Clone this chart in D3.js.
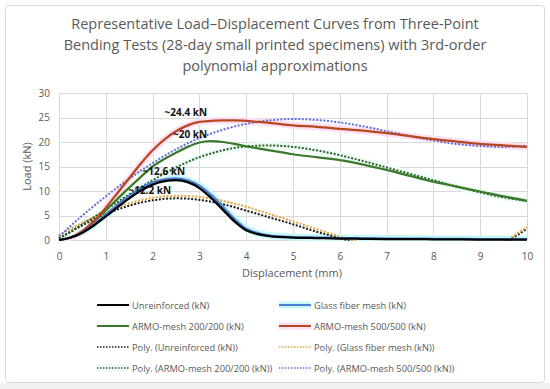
<!DOCTYPE html>
<html>
<head>
<meta charset="utf-8">
<script src="https://cdn.jsdelivr.net/npm/d3@7"></script>
<style>
body { margin: 0; background: #fff; }
svg { display: block; font-family: "Open Sans", "Noto Sans", sans-serif; }
</style>
</head>
<body>
<div id="chart"></div>
<script>
// load (kN), x = displacement (mm)
var x_raw = [0, 0.25, 0.5, 0.75, 1, 1.25, 1.5, 1.75, 2, 2.25, 2.5, 2.75, 3, 3.25, 3.5, 3.75, 4, 4.25, 4.5, 5, 5.5, 6, 6.5, 7, 7.5, 8, 8.5, 9, 9.5, 10];
var unreinforced = [0, 0.5, 1.5, 3.0, 4.8, 6.7, 8.5, 10.1, 11.3, 12.0, 12.2, 11.8, 10.6, 8.6, 6.2, 3.8, 2.0, 1.2, 0.8, 0.5, 0.4, 0.3, 0.25, 0.2, 0.18, 0.15, 0.12, 0.1, 0.1, 0.1];
var glass_fiber = [0, 0.5, 1.6, 3.2, 5.2, 7.2, 9.0, 10.6, 11.8, 12.4, 12.6, 12.2, 11.1, 9.2, 6.8, 4.3, 2.3, 1.4, 0.9, 0.6, 0.5, 0.4, 0.35, 0.3, 0.28, 0.25, 0.22, 0.2, 0.2, 0.2];
var armo_200 = [0, 0.5, 1.8, 3.8, 6.1, 8.4, 10.7, 12.9, 15.0, 16.5, 17.8, 19.0, 19.9, 20.2, 20.0, 19.6, 19.1, 18.7, 18.3, 17.5, 16.9, 16.3, 15.4, 14.3, 13.1, 11.9, 10.9, 9.9, 8.9, 8.0];
var armo_500 = [0, 0.5, 1.8, 3.9, 6.6, 9.6, 12.6, 15.6, 18.3, 20.5, 22.2, 23.4, 24.1, 24.3, 24.4, 24.4, 24.3, 24.1, 23.9, 23.4, 23.1, 22.7, 22.3, 21.8, 21.2, 20.6, 20.1, 19.6, 19.3, 19.0];

// trendline points (dips below 0 are clipped)
var x_poly = [0, 0.5, 1, 1.5, 2, 2.5, 3, 3.5, 4, 4.5, 5, 5.5, 6, 6.5, 7, 7.5, 8, 8.5, 9, 9.5, 10];
var poly_unreinforced = [0.3, 3.0, 5.3, 7.0, 8.1, 8.5, 8.2, 7.3, 6.0, 4.6, 3.2, 1.7, 0.4, -0.9, -2.0, -2.9, -3.4, -3.3, -2.5, -0.6, 2.3];
var poly_glass = [1.0, 3.5, 5.7, 7.5, 8.6, 9.0, 8.8, 8.0, 6.8, 5.3, 3.8, 2.2, 0.7, -0.7, -1.9, -2.8, -3.3, -3.2, -2.4, -0.4, 2.7];
var poly_200 = [0.3, 3.2, 6.2, 9.3, 12.2, 14.8, 16.9, 18.3, 19.1, 19.3, 19.0, 18.3, 17.3, 16.1, 14.8, 13.5, 12.2, 10.9, 9.7, 8.7, 8.0];
var poly_500 = [0.7, 5.0, 8.9, 12.5, 15.7, 18.5, 20.8, 22.5, 23.7, 24.4, 24.7, 24.5, 24.0, 23.2, 22.2, 21.2, 20.3, 19.6, 19.2, 19.0, 19.2];

var x_ticks = [0, 1, 2, 3, 4, 5, 6, 7, 8, 9, 10];
var y_ticks = [0, 5, 10, 15, 20, 25, 30];

var title_lines = [
    "Representative Load\u2013Displacement Curves from Three-Point",
    "Bending Tests (28-day small printed specimens) with 3rd-order",
    "polynomial approximations"
];

// peak annotations, anchored in data units (centre of the text, baseline)
var peak_labels = [
    {text: "~24.4 kN", x: 2.71, y: 25.3},
    {text: "~20 kN", x: 2.8, y: 20.8},
    {text: "~12.6 kN", x: 2.24, y: 13.3},
    {text: "~12.2 kN", x: 1.94, y: 9.4}
];

var W = 550, H = 389;
var margin = {left: 59, right: 23, top: 93, bottom: 149};

var svg = d3.select("#chart").append("svg")
    .attr("width", W)
    .attr("height", H);

// outer frame
svg.append("rect")
    .attr("x", 0).attr("y", 383).attr("width", W).attr("height", H - 383)
    .attr("fill", "#f1f1f1");
svg.append("rect")
    .attr("x", 5.5).attr("y", 5.5)
    .attr("width", 539).attr("height", 377)
    .attr("rx", 3)
    .attr("fill", "#fff")
    .attr("stroke", "#d9d9d9");

var x = d3.scaleLinear().domain([0, 10]).range([margin.left, W - margin.right]);
var y = d3.scaleLinear().domain([0, 30]).range([H - margin.bottom, margin.top]);

// title
svg.append("g").selectAll("text")
    .data(title_lines)
    .enter().append("text")
    .attr("x", 275)
    .attr("y", function(d, i){ return 29 + i * 21; })
    .attr("text-anchor", "middle")
    .attr("font-size", 14.5)
    .attr("fill", "#595959")
    .text(function(d){ return d; });

// gridlines
var grid = svg.append("g");
grid.selectAll("line.h")
    .data(y_ticks)
    .enter().append("line")
    .attr("x1", x(0)).attr("x2", x(10))
    .attr("y1", function(d){ return Math.round(y(d)) + 0.5; })
    .attr("y2", function(d){ return Math.round(y(d)) + 0.5; })
    .attr("stroke", "#d9d9d9");
grid.selectAll("line.v")
    .data(x_ticks)
    .enter().append("line")
    .attr("y1", y(0)).attr("y2", y(30))
    .attr("x1", function(d){ return Math.round(x(d)) + 0.5; })
    .attr("x2", function(d){ return Math.round(x(d)) + 0.5; })
    .attr("stroke", "#d9d9d9");

// axes
var x_axis = svg.append("g")
    .attr("transform", "translate(0," + (y(0) + 5) + ")")
    .call(d3.axisBottom(x).tickValues(x_ticks).tickSize(0).tickPadding(8));
var y_axis = svg.append("g")
    .attr("transform", "translate(" + (x(0) - 9) + ",0)")
    .call(d3.axisLeft(y).tickValues(y_ticks).tickSize(0).tickPadding(0));
[x_axis, y_axis].forEach(function(a){
    a.select(".domain").remove();
    a.selectAll("text")
	.attr("font-size", 10)
	.attr("fill", "#595959")
	.attr("font-family", "'Open Sans', sans-serif");
});

svg.append("text")
    .attr("x", 292).attr("y", 277)
    .attr("text-anchor", "middle")
    .attr("font-size", 11)
    .attr("fill", "#595959")
    .text("Displacement (mm)");
svg.append("text")
    .attr("transform", "translate(31," + ((y(0) + y(30)) / 2) + ") rotate(-90)")
    .attr("text-anchor", "middle")
    .attr("font-size", 11)
    .attr("fill", "#595959")
    .text("Load (kN)");

// series
var series = [
    {name: "Unreinforced (kN)", xs: x_raw, ys: unreinforced, color: "#000000", dash: null, glow: null},
    {name: "Glass fiber mesh (kN)", xs: x_raw, ys: glass_fiber, color: "#4a7fd8", dash: null, glow: "#c8f7fa"},
    {name: "ARMO-mesh 200/200 (kN)", xs: x_raw, ys: armo_200, color: "#3b7a2a", dash: null, glow: null},
    {name: "ARMO-mesh 500/500 (kN)", xs: x_raw, ys: armo_500, color: "#b8461f", dash: null, glow: "#fde0f3"},
    {name: "Poly. (Unreinforced (kN))", xs: x_poly, ys: poly_unreinforced, color: "#1a1a1a", dash: "2,1.6", glow: null},
    {name: "Poly. (Glass fiber mesh (kN))", xs: x_poly, ys: poly_glass, color: "#e3a33a", dash: "2,1.6", glow: null},
    {name: "Poly. (ARMO-mesh 200/200 (kN))", xs: x_poly, ys: poly_200, color: "#2f5f22", dash: "2,1.6", glow: "#eefcf8"},
    {name: "Poly. (ARMO-mesh 500/500 (kN))", xs: x_poly, ys: poly_500, color: "#5f6fe0", dash: "2,1.6", glow: null}
];

svg.append("clipPath").attr("id", "plot-clip")
    .append("rect")
    .attr("x", x(0) - 2).attr("y", y(30))
    .attr("width", x(10) - x(0) + 4).attr("height", y(0) - y(30) + 1);

var line = d3.line()
    .x(function(d){ return x(d[0]); })
    .y(function(d){ return y(d[1]); })
    .curve(d3.curveMonotoneX);

var plot = svg.append("g").attr("clip-path", "url(#plot-clip)");

function pts(s){
    return s.xs.map(function(v, i){ return [v, s.ys[i]]; });
}

// glows first so they sit beneath every line
series.forEach(function(s){
    if (s.glow == null) return;
    plot.append("path")
	.attr("d", line(pts(s)))
	.attr("fill", "none")
	.attr("stroke", s.glow)
	.attr("stroke-width", 7)
	.attr("stroke-linejoin", "round");
});

var draw_order = [4, 5, 6, 7, 2, 3, 1, 0];
draw_order.forEach(function(k){
    var s = series[k];
    plot.append("path")
	.attr("d", line(pts(s)))
	.attr("fill", "none")
	.attr("stroke", s.color)
	.attr("stroke-width", s.dash ? 2 : 2.25)
	.attr("stroke-dasharray", s.dash)
	.attr("stroke-linejoin", "round");
});

svg.append("g").selectAll("text")
    .data(peak_labels)
    .enter().append("text")
    .attr("x", function(d){ return x(d.x); })
    .attr("y", function(d){ return y(d.y); })
    .attr("text-anchor", "middle")
    .attr("font-size", 10)
    .attr("font-weight", "bold")
    .attr("fill", "#111")
    .text(function(d){ return d.text; });

// legend, two columns
var legend = svg.append("g");
var leg = legend.selectAll("g")
    .data(series)
    .enter().append("g")
    .attr("transform", function(d, i){
	var col = i % 2, row = Math.floor(i / 2);
	return "translate(" + (col == 0 ? 97 : 279) + "," + (305 + row * 21) + ")";
    });
leg.filter(function(d){ return d.glow != null; })
    .append("line")
    .attr("x1", 0).attr("x2", 32)
    .attr("stroke", function(d){ return d.glow; })
    .attr("stroke-width", 7);
leg.append("line")
    .attr("x1", 0).attr("x2", 32)
    .attr("stroke", function(d){ return d.color; })
    .attr("stroke-width", function(d){ return d.dash ? 1.5 : 2; })
    .attr("stroke-dasharray", function(d){ return d.dash ? "1.5,1.5" : null; });
leg.append("text")
    .attr("x", 35)
    .attr("y", 3.5)
    .attr("font-size", 9.3)
    .attr("fill", "#595959")
    .text(function(d){ return d.name; });
</script>
</body>
</html>
